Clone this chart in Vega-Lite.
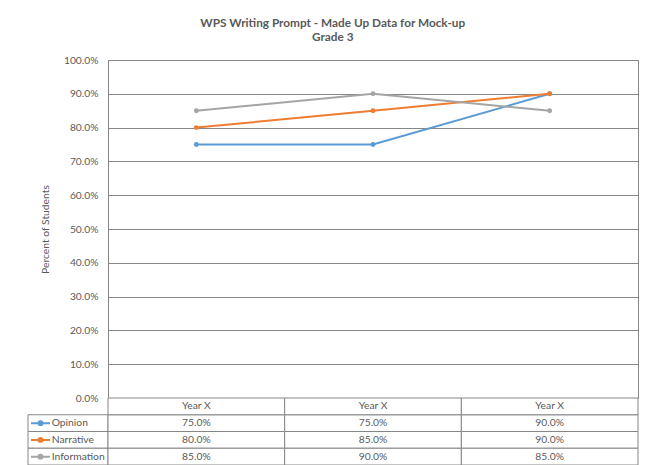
{
  "$schema": "https://vega.github.io/schema/vega-lite/v6.json",
  "background": "white",
  "padding": {"left": 27, "top": 17, "right": 12, "bottom": 0},
  "title": {
    "text": ["WPS Writing Prompt - Made Up Data for Mock-up", "Grade 3"],
    "anchor": "middle",
    "font": "Lato",
    "fontSize": 11.8,
    "fontWeight": "bold",
    "color": "#595959",
    "lineHeight": 14,
    "offset": 11
  },
  "config": {"font": "Lato", "view": {"stroke": null}},
  "data": {
    "values": [
      {"period": 1, "year": "Year X", "series": "Opinion", "value": 0.75},
      {"period": 2, "year": "Year X", "series": "Opinion", "value": 0.75},
      {"period": 3, "year": "Year X", "series": "Opinion", "value": 0.90},
      {"period": 1, "year": "Year X", "series": "Narrative", "value": 0.80},
      {"period": 2, "year": "Year X", "series": "Narrative", "value": 0.85},
      {"period": 3, "year": "Year X", "series": "Narrative", "value": 0.90},
      {"period": 1, "year": "Year X", "series": "Information", "value": 0.85},
      {"period": 2, "year": "Year X", "series": "Information", "value": 0.90},
      {"period": 3, "year": "Year X", "series": "Information", "value": 0.85}
    ]
  },
  "columns": 2,
  "spacing": 0,
  "bounds": "flush",
  "concat": [
    {
      "width": 80,
      "height": 338,
      "mark": {"type": "point", "opacity": 0},
      "encoding": {}
    },
    {
      "width": 530,
      "height": 338,
      "view": {"stroke": "#868686"},
      "encoding": {
        "x": {"field": "period", "type": "ordinal", "scale": {"type": "band", "paddingInner": 0, "paddingOuter": 0}, "axis": null},
        "y": {
          "field": "value",
          "type": "quantitative",
          "scale": {"domain": [0, 1]},
          "axis": {
            "format": ".1%",
            "values": [0, 0.1, 0.2, 0.3, 0.4, 0.5, 0.6, 0.7, 0.8, 0.9, 1],
            "title": "Percent of Students",
            "grid": true,
            "gridColor": "#868686",
            "gridOpacity": 1,
            "ticks": false,
            "domain": false,
            "labelPadding": 10,
            "labelColor": "#595959",
            "labelFontSize": 10.3,
            "titleColor": "#595959",
            "titleFontSize": 10.3,
            "titleFontWeight": "normal",
            "titlePadding": 13
          }
        },
        "color": {
          "field": "series",
          "type": "nominal",
          "scale": {"domain": ["Opinion", "Narrative", "Information"], "range": ["#5b9bd5", "#ed7d31", "#a5a5a5"]},
          "legend": null
        }
      },
      "layer": [
        {"mark": {"type": "line", "strokeWidth": 2}},
        {"mark": {"type": "point", "filled": true, "size": 24, "opacity": 1}}
      ]
    },
    {
      "width": 80,
      "height": 67,
      "transform": [{"filter": "datum.period === 1"}],
      "encoding": {
        "y": {
          "field": "series",
          "type": "nominal",
          "scale": {"domain": ["Year", "Opinion", "Narrative", "Information"], "paddingInner": 0, "paddingOuter": 0},
          "axis": null
        }
      },
      "layer": [
        {"mark": {"type": "rect", "fill": "white", "stroke": "#868686", "strokeWidth": 1}},
        {
          "mark": {
            "type": "point",
            "shape": "M-1,0H1M-0.2,0A0.2,0.2,0,1,0,0.2,0A0.2,0.2,0,1,0,-0.2,0Z",
            "size": 361,
            "strokeWidth": 2,
            "opacity": 1,
            "xOffset": -27.5
          },
          "encoding": {
            "fill": {"field": "series", "type": "nominal", "scale": {"domain": ["Opinion", "Narrative", "Information"], "range": ["#5b9bd5", "#ed7d31", "#a5a5a5"]}, "legend": null},
            "stroke": {"field": "series", "type": "nominal", "scale": {"domain": ["Opinion", "Narrative", "Information"], "range": ["#5b9bd5", "#ed7d31", "#a5a5a5"]}, "legend": null}
          }
        },
        {
          "mark": {"type": "text", "align": "left", "dx": -16.3, "fontSize": 10.3, "color": "#595959"},
          "encoding": {"text": {"field": "series"}}
        }
      ]
    },
    {
      "width": 530,
      "height": 67,
      "encoding": {
        "x": {"field": "period", "type": "ordinal", "scale": {"type": "band", "paddingInner": 0, "paddingOuter": 0}, "axis": null}
      },
      "layer": [
        {
          "mark": {"type": "rect", "fill": "white", "stroke": "#868686", "strokeWidth": 1},
          "encoding": {
            "y": {"field": "series", "type": "nominal", "scale": {"domain": ["Year", "Opinion", "Narrative", "Information"], "paddingInner": 0, "paddingOuter": 0}, "axis": null}
          }
        },
        {
          "transform": [{"filter": "datum.series === 'Opinion'"}],
          "mark": {"type": "rect", "fill": "white", "stroke": "#868686", "strokeWidth": 1},
          "encoding": {"y": {"datum": "Year", "type": "nominal"}}
        },
        {
          "mark": {"type": "text", "fontSize": 10.3, "color": "#595959"},
          "encoding": {
            "y": {"field": "series", "type": "nominal"},
            "text": {"field": "value", "type": "quantitative", "format": ".1%"}
          }
        },
        {
          "transform": [{"filter": "datum.series === 'Opinion'"}],
          "mark": {"type": "text", "fontSize": 10.3, "color": "#595959"},
          "encoding": {
            "y": {"datum": "Year", "type": "nominal"},
            "text": {"field": "year", "type": "nominal"}
          }
        }
      ]
    }
  ]
}
